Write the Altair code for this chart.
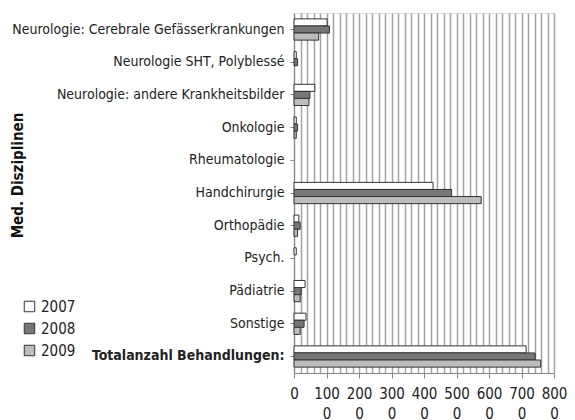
import altair as alt
import pandas as pd

categories = [
    "Neurologie: Cerebrale Gefässerkrankungen",
    "Neurologie SHT, Polyblessé",
    "Neurologie: andere Krankheitsbilder",
    "Onkologie",
    "Rheumatologie",
    "Handchirurgie",
    "Orthopädie",
    "Psych.",
    "Pädiatrie",
    "Sonstige",
    "Totalanzahl Behandlungen:",
]
years = ["2007", "2008", "2009"]
v2007 = [102, 7, 64, 7, 0, 428, 15, 7, 34, 37, 714]
v2008 = [109, 11, 49, 11, 0, 485, 19, 0, 22, 31, 742]
v2009 = [76, 0, 46, 7, 0, 576, 11, 0, 19, 19, 759]
colors = ["#ffffff", "#777777", "#bdbdbd"]
grid_values = list(range(0, 801, 20))

rows = []
for yr, vals in zip(years, [v2007, v2008, v2009]):
    for c, v in zip(categories, vals):
        rows.append({"Disziplin": c, "Jahr": yr, "Anzahl": v})
df = pd.DataFrame(rows)

FONT = "DejaVu Sans Condensed, Roboto Condensed, Liberation Sans Narrow, Roboto, sans-serif"
LEFT = 286

chart = alt.Chart(df).mark_bar(stroke="#333333", strokeWidth=1).encode(
    x=alt.X(
        "Anzahl:Q",
        scale=alt.Scale(domain=[0, 800], nice=False),
        axis=alt.Axis(
            title=None,
            values=grid_values,
            grid=True,
            gridColor="#a3a3a3",
            gridWidth=1.5,
            domainColor="#888888",
            tickColor="#888888",
            tickSize=5,
            tickOpacity={"expr": "datum.value % 100 === 0 ? 1 : 0"},
            labelExpr="datum.value % 100 === 0 ? (datum.value === 0 ? '0' : [toString(datum.value), '0']) : ''",
            labelOverlap=False,
            labelFlush=False,
            labelFont=FONT,
            labelFontSize=15,
            labelColor="#222222",
            labelPadding=8,
            labelLineHeight=20,
            labelBaseline="top",
        ),
    ),
    y=alt.Y(
        "Disziplin:N",
        sort=categories,
        scale=alt.Scale(domain=categories, paddingInner=0.35, paddingOuter=0.18),
        axis=alt.Axis(
            title="Med. Disziplinen",
            titleFont=FONT,
            titleFontSize=15,
            titleFontWeight="bold",
            titleColor="#111111",
            titleAngle=270,
            titleX=9 - LEFT,
            titleY=162,
            titleAlign="center",
            titleBaseline="middle",
            labelFont=FONT,
            labelFontSize=14,
            labelColor="#222222",
            labelFontWeight={"expr": "datum.value === 'Totalanzahl Behandlungen:' ? 'bold' : 'normal'"},
            labelLimit=400,
            labelPadding=6,
            tickSize=4,
            tickColor="#888888",
            domainColor="#888888",
        ),
    ),
    yOffset=alt.YOffset("Jahr:N", sort=years, scale=alt.Scale(domain=years)),
    fill=alt.Fill(
        "Jahr:N",
        scale=alt.Scale(domain=years, range=colors),
        legend=alt.Legend(
            title=None,
            orient="none",
            legendX=14 - LEFT,
            legendY=286,
            symbolType="square",
            symbolSize=110,
            symbolStrokeColor="#333333",
            symbolStrokeWidth=1,
            labelFont=FONT,
            labelFontSize=15,
            labelColor="#222222",
            rowPadding=6,
            padding=0,
        ),
    ),
).transform_filter(
    "datum.Anzahl > 0"
).properties(
    width=260,
    height=360,
    autosize=alt.AutoSizeParams(type="none"),
    padding={"left": LEFT, "top": 5, "right": 13, "bottom": 47},
).configure_view(
    fill="#e3e3e3",
    stroke=None,
).configure(background="#ffffff")

chart.save("out.html", embed_options={"renderer": "svg", "actions": False})
